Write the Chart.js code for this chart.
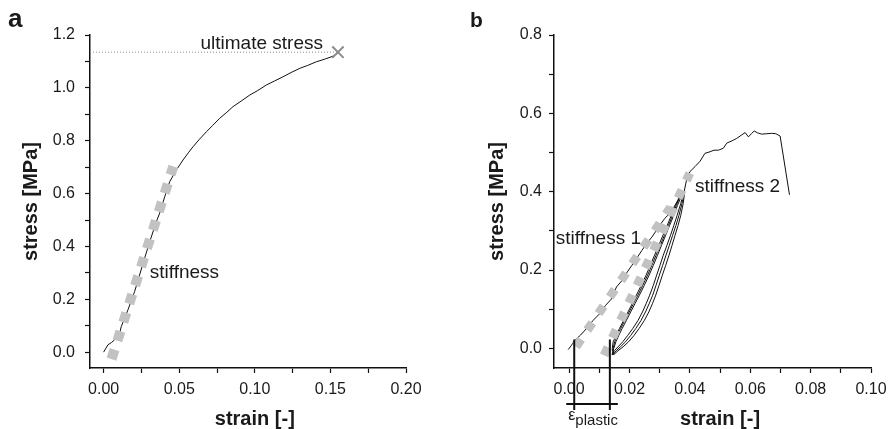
<!DOCTYPE html>
<html>
<head>
<meta charset="utf-8">
<script src="https://cdn.jsdelivr.net/npm/chart.js@4.4.0/dist/chart.umd.min.js"></script>
<style>
  body { margin: 0; background: #fff; }
  #wrap { position: relative; width: 894px; height: 429px; }
  canvas { position: absolute; top: 0; }
  #chartA { left: 0; }
  #chartB { left: 447px; }
</style>
</head>
<body>
<div id="wrap">
  <canvas id="chartA" width="447" height="429"></canvas>
  <canvas id="chartB" width="447" height="429"></canvas>
</div>
<script>
// ---- (a) monotonic tensile test ----
var aStrain = [0, 0.0029, 0.0051, 0.0068, 0.0106, 0.0117, 0.0161, 0.0205, 0.0238, 0.0271, 0.0305, 0.0349,
  0.0371, 0.0404, 0.0437, 0.0481, 0.0525, 0.0560, 0.0591, 0.0630, 0.0680, 0.0722, 0.0768, 0.0810, 0.0856,
  0.0910, 0.0967, 0.1020, 0.1077, 0.1130, 0.1187, 0.1240, 0.1298, 0.1350, 0.1408, 0.1460, 0.1518, 0.1550];
var aStress = [0, 0.028, 0.036, 0.044, 0.072, 0.097, 0.160, 0.229, 0.292, 0.355, 0.418, 0.494,
  0.526, 0.588, 0.645, 0.689, 0.727, 0.754, 0.777, 0.803, 0.834, 0.858, 0.885, 0.905, 0.929,
  0.950, 0.973, 0.990, 1.011, 1.026, 1.042, 1.058, 1.074, 1.085, 1.099, 1.108, 1.120, 1.133];
var aStiffStrain = [0.0052, 0.0461];
var aStiffStress = [-0.0265, 0.703];
var aStiffLabel = [0.0305, 0.28];
var ultimateStrain = 0.155;
var ultimateStress = 1.135;
var aXMin = -0.009, aXMax = 0.2, aYMin = -0.06, aYMax = 1.2;
var aXTicks = [0, 0.025, 0.05, 0.075, 0.1, 0.125, 0.15, 0.175, 0.2];
var aXLabels = ['0.00', '', '0.05', '', '0.10', '', '0.15', '', '0.20'];
var aYTicks = [0, 0.1, 0.2, 0.3, 0.4, 0.5, 0.6, 0.7, 0.8, 0.9, 1.0, 1.1, 1.2];
var aYLabels = ['0.0', '', '0.2', '', '0.4', '', '0.6', '', '0.8', '', '1.0', '', '1.2'];

// ---- (b) cyclic test ----
var bLoadStrain = [-0.0003, 0.0008, 0.0019, 0.0038, 0.0058, 0.0080, 0.0102, 0.0121, 0.0140, 0.0157, 0.0174,
  0.0190, 0.0207, 0.0224, 0.0241, 0.0257, 0.0274, 0.0290, 0.0304, 0.0317, 0.0334, 0.0348, 0.0362, 0.0372, 0.0380];
var bLoadStress = [-0.003, 0.008, 0.021, 0.034, 0.051, 0.072, 0.089, 0.110, 0.126, 0.157, 0.172,
  0.192, 0.211, 0.230, 0.250, 0.268, 0.284, 0.302, 0.318, 0.332, 0.345, 0.362, 0.379, 0.392, 0.402];

// unloading branches (right side of the loops)
var bUnloadStress = [0.400, 0.370, 0.340, 0.314, 0.289, 0.263, 0.238, 0.212, 0.187, 0.161, 0.136, 0.114,
  0.093, 0.071, 0.051, 0.033, 0.017, 0.004, -0.006, -0.016];
var bUnload1 = [0.0383, 0.0378, 0.0370, 0.0361, 0.0351, 0.0341, 0.0331, 0.0320, 0.0309, 0.0298, 0.0287, 0.0276,
  0.0264, 0.0249, 0.0232, 0.0215, 0.0197, 0.0179, 0.0162, 0.0148];
var bUnload2 = [0.0381, 0.0374, 0.0364, 0.0354, 0.0343, 0.0332, 0.0321, 0.0310, 0.0299, 0.0288, 0.0277, 0.0265,
  0.0253, 0.0238, 0.0221, 0.0204, 0.0187, 0.0170, 0.0156, 0.0145];
var bUnload3 = [0.0379, 0.0370, 0.0358, 0.0347, 0.0336, 0.0324, 0.0312, 0.0301, 0.0290, 0.0279, 0.0267, 0.0255,
  0.0243, 0.0228, 0.0211, 0.0194, 0.0178, 0.0162, 0.0150, 0.0142];

// reloading branches (left side of the loops)
var bReloadStress = [-0.016, 0.000, 0.017, 0.034, 0.051, 0.072, 0.093, 0.114, 0.136, 0.161, 0.187, 0.212,
  0.238, 0.263, 0.289, 0.314, 0.340, 0.365, 0.385, 0.400];
var bReload1 = [0.0146, 0.0143, 0.0146, 0.0156, 0.0167, 0.0181, 0.0195, 0.0209, 0.0223, 0.0239, 0.0255, 0.0269,
  0.0283, 0.0297, 0.0311, 0.0325, 0.0339, 0.0352, 0.0364, 0.0378];
var bReload2 = [0.0145, 0.0146, 0.0151, 0.0160, 0.0171, 0.0185, 0.0199, 0.0213, 0.0228, 0.0244, 0.0260, 0.0274,
  0.0288, 0.0302, 0.0316, 0.0329, 0.0343, 0.0355, 0.0366, 0.0379];
var bReload3 = [0.0143, 0.0148, 0.0155, 0.0165, 0.0176, 0.0190, 0.0204, 0.0218, 0.0233, 0.0249, 0.0265, 0.0279,
  0.0293, 0.0306, 0.0320, 0.0333, 0.0347, 0.0359, 0.0370, 0.0381];

var bFinalStrain = [0.0381, 0.0389, 0.0400, 0.0417, 0.0434, 0.0450, 0.0467, 0.0480, 0.0495, 0.0511, 0.0522,
  0.0540, 0.0555, 0.0570, 0.0583, 0.0594, 0.0605, 0.0613, 0.0625, 0.0638, 0.0655, 0.0671, 0.0685, 0.0699, 0.0730];
var bFinalStress = [0.400, 0.430, 0.451, 0.464, 0.478, 0.498, 0.502, 0.506, 0.506, 0.511, 0.524,
  0.530, 0.536, 0.544, 0.551, 0.540, 0.549, 0.555, 0.550, 0.547, 0.548, 0.549, 0.548, 0.542, 0.392];

var bStiff1Strain = [0.0023, 0.0336];
var bStiff1Stress = [0.0043, 0.360];
var bStiff2Strain = [0.0116, 0.0400];
var bStiff2Stress = [-0.0179, 0.4475];
var bStiff1Label = [-0.0044, 0.266];
var bStiff2Label = [0.0417, 0.40];
var plasticStrain = [0.0017, 0.0135];
var plasticTop = 0.023;
var bXMin = -0.005, bXMax = 0.1, bYMin = -0.05, bYMax = 0.8;
var bXTicks = [0, 0.01, 0.02, 0.03, 0.04, 0.05, 0.06, 0.07, 0.08, 0.09, 0.1];
var bXLabels = ['0.00', '', '0.02', '', '0.04', '', '0.06', '', '0.08', '', '0.10'];
var bYTicks = [0, 0.1, 0.2, 0.3, 0.4, 0.5, 0.6, 0.7, 0.8];
var bYLabels = ['0.0', '', '0.2', '', '0.4', '', '0.6', '', '0.8'];

var FONT = '"Liberation Sans", Arial, Helvetica, sans-serif';
var INK = '#1a1a1a';
var SQUARE = '#c2c2c2';
Chart.defaults.font.family = FONT;
Chart.defaults.color = INK;

function pts(xs, ys) {
  return xs.map(function (x, i) { return { x: x, y: ys[i] }; });
}

function cycle(unload, reload) {
  return pts(unload, bUnloadStress).concat(pts(reload, bReloadStress));
}

function makeScale(min, max, ticks, labels, size, tickPad, yTitle, titlePad) {
  return {
    type: 'linear',
    min: min,
    max: max,
    afterBuildTicks: function (s) {
      s.ticks = ticks.map(function (v) { return { value: v }; });
    },
    afterFit: function (s) {
      if (s.isHorizontal()) s.height = size; else s.width = size;
    },
    grid: { drawOnChartArea: false, drawTicks: true, tickLength: 5, color: '#111', tickWidth: 1.2 },
    border: { display: true, color: '#111', width: 1.5 },
    ticks: {
      autoSkip: false, maxRotation: 0, padding: tickPad, color: INK, font: { size: 16 },
      callback: function (v, i) { return labels[i]; }
    },
    title: {
      display: !!yTitle, text: yTitle || '', color: INK,
      font: { size: 20, weight: 'bold', lineHeight: 1 },
      padding: { top: titlePad || 0, bottom: 0 }
    }
  };
}

function curve(data) {
  return { data: data, borderColor: '#111', borderWidth: 1, pointRadius: 0, order: 3 };
}

function squares(data, size, gap) {
  return { data: data, borderColor: SQUARE, borderWidth: size, borderDash: [size, gap], pointRadius: 0, order: 1 };
}

// x axis title centred over the tick range
function xTitle(chart, text) {
  var x = chart.scales.x, ctx = chart.ctx;
  var ticks = x.ticks;
  var cx = (x.getPixelForValue(ticks[0].value) + x.getPixelForValue(ticks[ticks.length - 1].value)) / 2;
  ctx.font = 'bold 20px ' + FONT;
  ctx.textAlign = 'center';
  ctx.textBaseline = 'middle';
  ctx.fillText(text, cx, chart.height - 10);
}

var labelsA = {
  id: 'labelsA',
  afterDraw: function (chart) {
    var ctx = chart.ctx, x = chart.scales.x, y = chart.scales.y;
    ctx.save();
    ctx.fillStyle = INK;
    xTitle(chart, 'strain [-]');
    ctx.textBaseline = 'alphabetic';
    ctx.textAlign = 'left';
    ctx.font = 'bold 26px ' + FONT;
    ctx.fillText('a', 8, 27);
    ctx.font = '19px ' + FONT;
    ctx.textAlign = 'right';
    ctx.fillText('ultimate stress', x.getPixelForValue(ultimateStrain) - 15, y.getPixelForValue(ultimateStress) - 3);
    ctx.textAlign = 'left';
    ctx.fillText('stiffness', x.getPixelForValue(aStiffLabel[0]), y.getPixelForValue(aStiffLabel[1]));
    ctx.restore();
  }
};

var labelsB = {
  id: 'labelsB',
  afterDraw: function (chart) {
    var ctx = chart.ctx, x = chart.scales.x, y = chart.scales.y, area = chart.chartArea;
    ctx.save();
    ctx.fillStyle = INK;
    xTitle(chart, 'strain [-]');
    ctx.textBaseline = 'alphabetic';
    ctx.textAlign = 'left';
    ctx.font = 'bold 21px ' + FONT;
    ctx.fillText('b', 23, 27);
    ctx.font = '19px ' + FONT;
    ctx.fillText('stiffness 1', x.getPixelForValue(bStiff1Label[0]), y.getPixelForValue(bStiff1Label[1]));
    ctx.fillText('stiffness 2', x.getPixelForValue(bStiff2Label[0]), y.getPixelForValue(bStiff2Label[1]));

    // plastic strain bracket below the axis
    var x0 = x.getPixelForValue(plasticStrain[0]);
    var x1 = x.getPixelForValue(plasticStrain[1]);
    var top = y.getPixelForValue(plasticTop);
    ctx.strokeStyle = '#111';
    ctx.lineWidth = 2;
    ctx.beginPath();
    ctx.moveTo(x0, top); ctx.lineTo(x0, area.bottom + 42);
    ctx.moveTo(x1, top); ctx.lineTo(x1, area.bottom + 42);
    ctx.moveTo(x0 - 8, area.bottom + 36); ctx.lineTo(x1 + 8, area.bottom + 36);
    ctx.stroke();
    ctx.font = '16px ' + FONT;
    ctx.fillText('\u03b5', x0 - 6, area.bottom + 52);
    var w = ctx.measureText('\u03b5').width;
    ctx.font = '15px ' + FONT;
    ctx.fillText('plastic', x0 - 6 + w, area.bottom + 57);
    ctx.restore();
  }
};

new Chart(document.getElementById('chartA'), {
  type: 'line',
  data: {
    datasets: [
      curve(pts(aStrain, aStress)),
      { data: [{ x: aXMin, y: ultimateStress }, { x: ultimateStrain, y: ultimateStress }],
        borderColor: '#8c8c8c', borderWidth: 1, borderDash: [1, 2], pointRadius: 0, order: 3 },
      squares(pts(aStiffStrain, aStiffStress), 10, 9.36),
      { data: [{ x: ultimateStrain, y: ultimateStress }], showLine: false, pointStyle: 'crossRot',
        pointRadius: 8, pointBorderWidth: 2, pointBorderColor: '#8c8c8c', order: 0 }
    ]
  },
  options: {
    responsive: false,
    animation: false,
    layout: { padding: { left: 0, right: 41, top: 35, bottom: 0 } },
    plugins: { legend: { display: false }, tooltip: { enabled: false } },
    scales: {
      x: makeScale(aXMin, aXMax, aXTicks, aXLabels, 61, 7),
      y: makeScale(aYMin, aYMax, aYTicks, aYLabels, 90, 10, 'stress [MPa]', 21)
    }
  },
  plugins: [labelsA]
});

new Chart(document.getElementById('chartB'), {
  type: 'line',
  data: {
    datasets: [
      curve(pts(bLoadStrain, bLoadStress)),
      curve(cycle(bUnload1, bReload1)),
      curve(cycle(bUnload2, bReload2)),
      curve(cycle(bUnload3, bReload3)),
      curve(pts(bFinalStrain, bFinalStress)),
      squares(pts(bStiff1Strain, bStiff1Stress), 9, 11.03),
      squares(pts(bStiff2Strain, bStiff2Stress), 9, 10.33)
    ]
  },
  options: {
    responsive: false,
    animation: false,
    layout: { padding: { left: 0, right: 23, top: 35, bottom: 0 } },
    plugins: { legend: { display: false }, tooltip: { enabled: false } },
    scales: {
      x: makeScale(bXMin, bXMax, bXTicks, bXLabels, 61, 7),
      y: makeScale(bYMin, bYMax, bYTicks, bYLabels, 107, 7, 'stress [MPa]', 40)
    }
  },
  plugins: [labelsB]
});
</script>
</body>
</html>
